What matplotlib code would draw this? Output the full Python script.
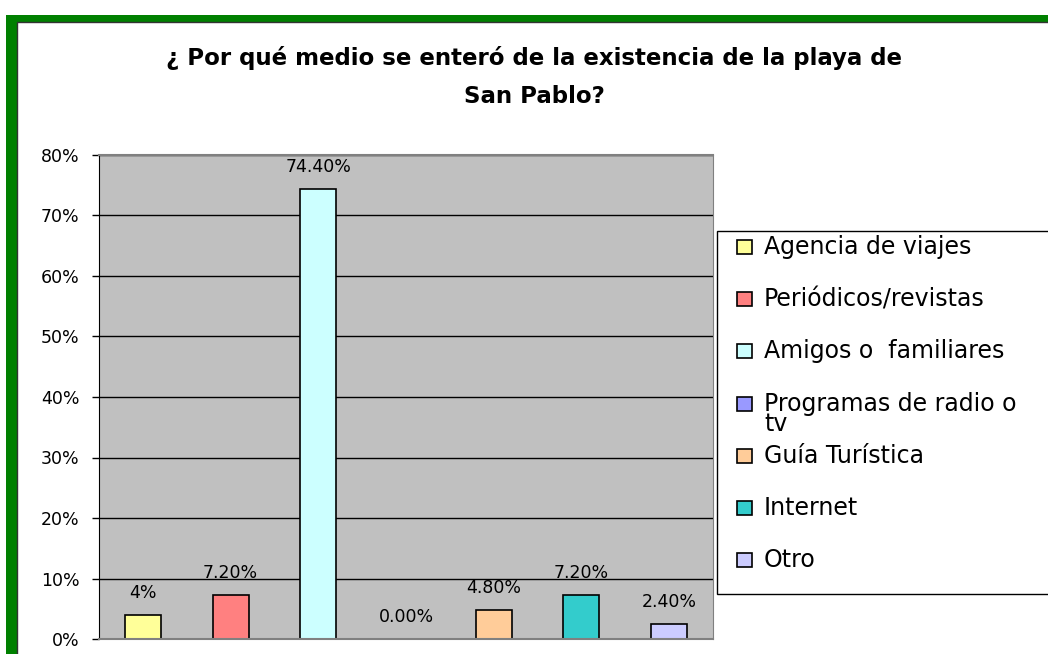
import matplotlib.pyplot as plt
from matplotlib.patches import Rectangle

categories = ['Agencia de viajes', 'Periódicos/revistas', 'Amigos o  familiares',
              'Programas de radio o\ntv', 'Guía Turística', 'Internet', 'Otro']
values = [4.0, 7.2, 74.4, 0.0, 4.8, 7.2, 2.4]
labels = ['4%', '7.20%', '74.40%', '0.00%', '4.80%', '7.20%', '2.40%']
colors = ['#FFFF99', '#FF8080', '#CCFFFF', '#9999FF', '#FFCC99', '#33CCCC', '#CCCCFF']

plt.rcParams['font.family'] = ['DejaVu Sans']

W, H = 1048, 654
fig = plt.figure(figsize=(W / 100, H / 100), dpi=100)

def fx(px):
    return px / W

def fy(py):
    return 1 - py / H

# green frame
fig.patches.append(Rectangle((fx(6), fy(H + 20)), fx(W + 20), fy(15) - fy(H + 20),
                             transform=fig.transFigure, facecolor='#008000',
                             edgecolor='none', zorder=0))
fig.patches.append(Rectangle((fx(17), fy(H + 20)), fx(W + 20), fy(22) - fy(H + 20),
                             transform=fig.transFigure, facecolor='white',
                             edgecolor='#333333', linewidth=1, zorder=0.5))

fig.text(fx(534), fy(77), '¿ Por qué medio se enteró de la existencia de la playa de\nSan Pablo?',
         ha='center', va='center', fontsize=16.5, fontweight='bold', linespacing=1.8)

# plot area
x0, x1, ytop, ybot = 99, 713, 155, 639
ax = fig.add_axes([fx(x0), fy(ybot), fx(x1 - x0), fy(ytop) - fy(ybot)])
ax.set_facecolor('#C0C0C0')
ax.set_zorder(1)

xs = range(len(values))
ax.bar(xs, values, width=0.41, color=colors, edgecolor='black', linewidth=1.2, zorder=3)
for x, v, lab in zip(xs, values, labels):
    ax.annotate(lab, (x, v), xytext=(0, 16), textcoords='offset points',
                ha='center', va='center', fontsize=12.5)

ax.set_xlim(-0.5, len(values) - 0.5)
ax.set_ylim(0, 80)
ax.set_yticks(range(0, 81, 10))
ax.set_yticklabels([f'{t}%' for t in range(0, 81, 10)], fontsize=12.5)
ax.set_xticks([])
ax.yaxis.grid(True, color='black', linewidth=1)
ax.set_axisbelow(True)
ax.tick_params(axis='y', length=5, width=1, pad=9)
for s in ['top', 'right', 'bottom']:
    ax.spines[s].set_color('#808080')
ax.spines['left'].set_color('black')
ax.spines['top'].set_linewidth(1.5)
ax.spines['bottom'].set_linewidth(1.5)
ax.spines['bottom'].set_zorder(4)

# legend box
fig.patches.append(Rectangle((fx(717), fy(594)), fx(W + 10 - 717), fy(231) - fy(594),
                             transform=fig.transFigure, facecolor='white',
                             edgecolor='black', linewidth=1, zorder=2))
for i, (cat, col) in enumerate(zip(categories, colors)):
    yc = 247 + i * 52.2
    fig.patches.append(Rectangle((fx(737), fy(yc + 7)), fx(15), fy(yc - 7) - fy(yc + 7),
                                 transform=fig.transFigure, facecolor=col,
                                 edgecolor='black', linewidth=1.2, zorder=3))
    if '\n' in cat:
        fig.text(fx(764), fy(yc - 12), cat, ha='left', va='top',
                 fontsize=17, zorder=4, linespacing=0.8)
    else:
        fig.text(fx(764), fy(yc), cat, ha='left', va='center', fontsize=17, zorder=4)

fig.savefig('out.png', dpi=100)
